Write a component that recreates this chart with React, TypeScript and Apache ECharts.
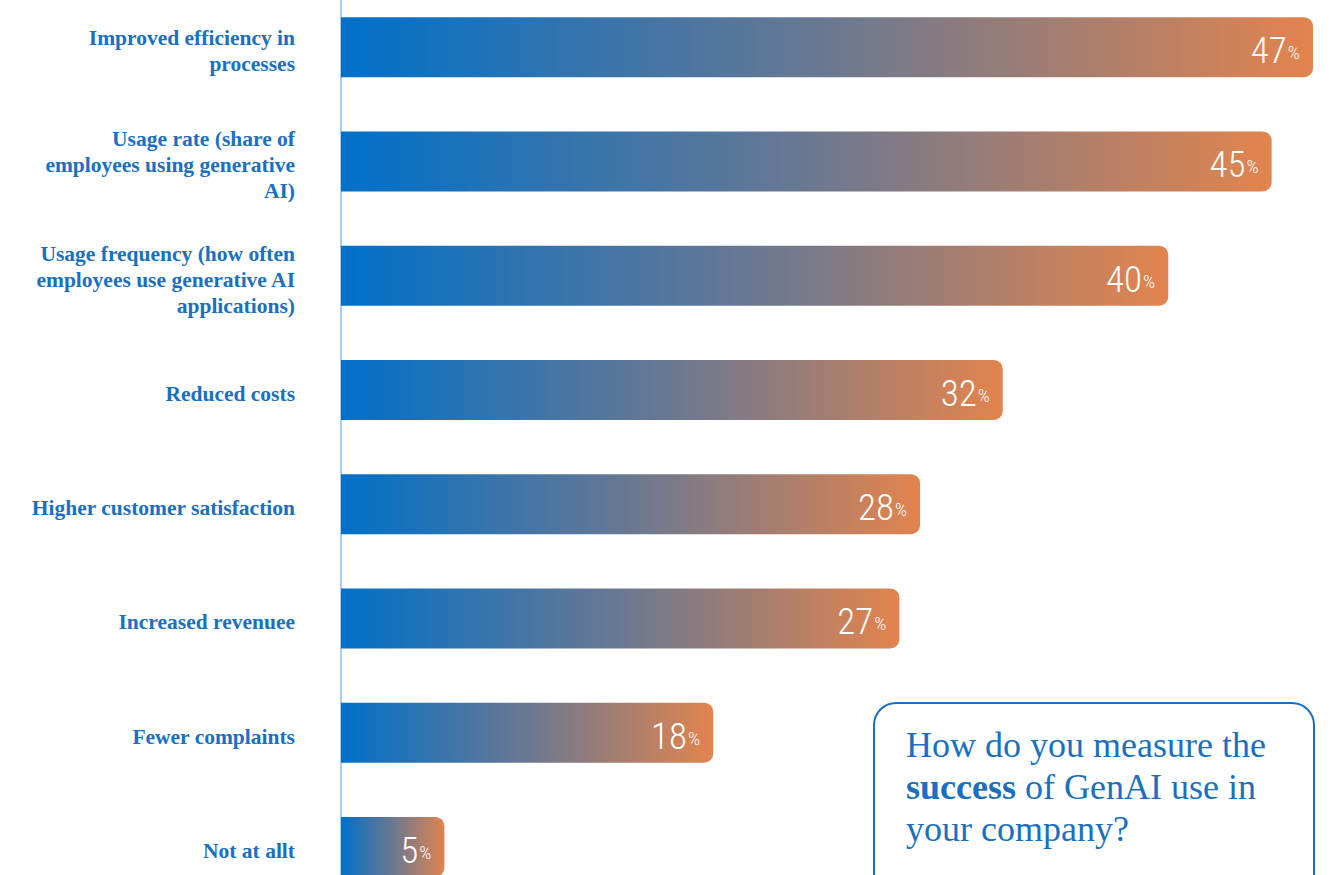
import React, { useEffect, useRef } from "react";
import * as echarts from "echarts";

const categories = [
  "Improved efficiency in\nprocesses",
  "Usage rate (share of\nemployees using generative\nAI)",
  "Usage frequency (how often\nemployees use generative AI\napplications)",
  "Reduced costs",
  "Higher customer satisfaction",
  "Increased revenuee",
  "Fewer complaints",
  "Not at allt",
];
const values = [47, 45, 40, 32, 28, 27, 18, 5];

const BLUE = "#1a70c0";
const SHIFT = 10; // the chart div starts 10px above the page

const labelFont = {
  color: BLUE,
  fontFamily: "'Liberation Serif', 'DejaVu Serif', serif",
  fontWeight: "bold" as const,
  fontSize: 21.5,
  align: "right" as const,
};

export default function App() {
  const ref = useRef<HTMLDivElement>(null);
  useEffect(() => {
    if (!ref.current) return;
    const chart = echarts.init(ref.current, undefined, { renderer: "svg" });
    chart.setOption({
      animation: false,
      backgroundColor: "#ffffff",
      grid: { left: 341, right: 22, top: 0, bottom: 10, containLabel: false },
      xAxis: {
        type: "value",
        min: 0,
        max: 47,
        show: false,
      },
      yAxis: {
        type: "category",
        data: categories,
        inverse: true,
        axisLine: { show: true, lineStyle: { color: "#8fbbe6", width: 1.5 } },
        axisTick: { show: false },
        splitLine: { show: false },
        axisLabel: {
          margin: 46,
          ...labelFont,
          lineHeight: 26,
          formatter: (v: string) =>
            "{s| }\n" +
            v
              .split("\n")
              .map((l) => `{a|${l}}`)
              .join("\n"),
          rich: {
            s: { fontSize: 1, lineHeight: 8 },
            a: { ...labelFont, lineHeight: 26 },
          },
        },
      },
      series: [
        {
          type: "bar",
          data: values,
          barWidth: 60,
          itemStyle: {
            borderRadius: [0, 9, 9, 0],
            color: new echarts.graphic.LinearGradient(0, 0, 1, 0, [
              { offset: 0, color: "#0070c9" },
              { offset: 0.5, color: "#6a7891" },
              { offset: 1, color: "#e2844e" },
            ]),
          },
          label: {
            show: true,
            position: "insideRight",
            distance: 13,
            formatter: (p: any) => `{n|${p.value}}{p|%}`,
            rich: {
              n: {
                color: "#ffffff",
                fontFamily: "'Liberation Sans Narrow', 'Roboto Condensed', Roboto, sans-serif",
                fontSize: 37,
                fontWeight: 300,
                verticalAlign: "bottom",
                lineHeight: 44,
              },
              p: {
                color: "#ffffff",
                fontFamily: "'Liberation Sans Narrow', 'Roboto Condensed', Roboto, sans-serif",
                fontSize: 19,
                fontWeight: 300,
                verticalAlign: "bottom",
                lineHeight: 30,
                padding: [0, 0, 7, 1],
              },
            },
          },
        },
      ],
      graphic: [
        {
          type: "rect",
          shape: { x: 874, y: 703 + SHIFT, width: 440, height: 220, r: 22 },
          style: { fill: "#ffffff", stroke: BLUE, lineWidth: 2 },
          z: 10,
        },
        {
          type: "text",
          x: 906,
          y: 724 + SHIFT,
          z: 11,
          style: {
            text: "How do you measure the\n{b|success} of GenAI use in\nyour company?",
            fill: BLUE,
            fontFamily: "'Liberation Serif', 'DejaVu Serif', serif",
            fontSize: 36,
            lineHeight: 42,
            rich: {
              b: {
                fill: BLUE,
                fontFamily: "'Liberation Serif', 'DejaVu Serif', serif",
                fontSize: 36,
                fontWeight: "bold",
                lineHeight: 42,
              },
            },
          },
        },
      ],
    });
    return () => chart.dispose();
  }, []);
  return (
    <div
      ref={ref}
      style={{ position: "fixed", left: 0, top: -SHIFT, width: 1335, height: 924 }}
    />
  );
}
